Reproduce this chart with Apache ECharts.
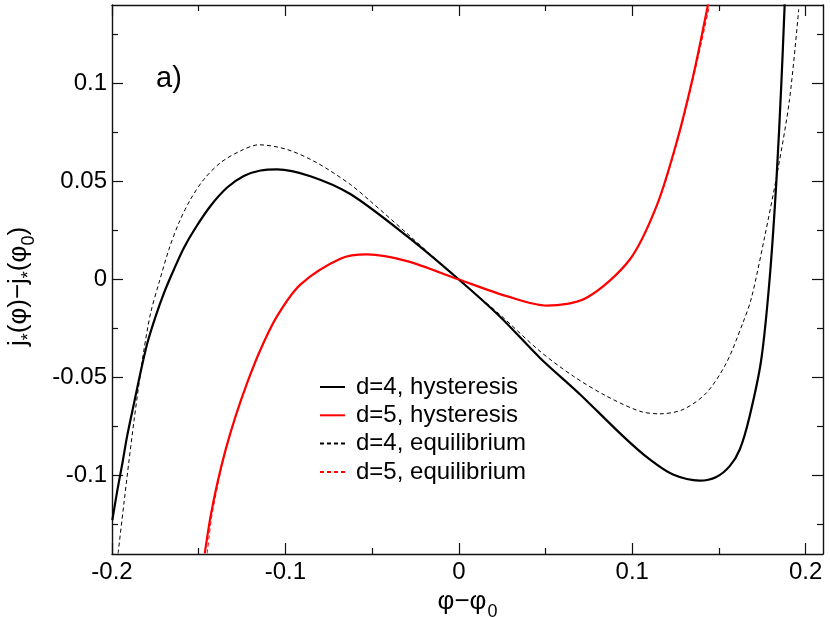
<!DOCTYPE html>
<html>
<head>
<meta charset="utf-8">
<script src="https://cdn.jsdelivr.net/npm/echarts@6/dist/echarts.min.js"></script>
<style>
html,body{margin:0;padding:0;background:#fff;}
#chart{width:830px;height:617px;}
</style>
</head>
<body>
<div id="chart"></div>
<script>
// d=4, hysteresis
const d4hX = [-0.1998, -0.1969, -0.1940, -0.1912, -0.1873, -0.1835, -0.1796, -0.1748, -0.1700, -0.1643, -0.1585, -0.1518, -0.1432, -0.1336, -0.1240, -0.1144, -0.1048, -0.0856, -0.0626, -0.0299, 0, 0.0238, 0.0468, 0.0698, 0.0948, 0.1101, 0.1235, 0.1389, 0.1485, 0.1562, 0.1620, 0.1677, 0.1744, 0.1792, 0.1831, 0.1860, 0.1879];
const d4hY = [-0.1227, -0.1074, -0.0937, -0.0795, -0.0631, -0.0472, -0.0324, -0.0187, -0.0068, 0.0051, 0.0162, 0.0264, 0.0375, 0.0469, 0.0528, 0.0556, 0.0562, 0.0527, 0.0436, 0.0221, 0, -0.0190, -0.0400, -0.0585, -0.0800, -0.0918, -0.0995, -0.1026, -0.1007, -0.0952, -0.0867, -0.0697, -0.0408, 0, 0.0498, 0.1003, 0.1403];
// d=5, hysteresis
const d5hX = [-0.1465, -0.1432, -0.1393, -0.1345, -0.1288, -0.1221, -0.1144, -0.1048, -0.0914, -0.0683, -0.0530, -0.0299, 0, 0.0276, 0.0507, 0.0737, 0.0986, 0.1140, 0.1255, 0.1351, 0.1437];
const d5hY = [-0.1397, -0.1210, -0.1040, -0.0869, -0.0699, -0.0528, -0.0358, -0.0187, -0.0026, 0.0106, 0.0128, 0.0094, 0, -0.0085, -0.0133, -0.0093, 0.0102, 0.0374, 0.0697, 0.1037, 0.1403];
// d=4, equilibrium
const d4eX = [-0.1965, -0.1931, -0.1902, -0.1873, -0.1844, -0.1816, -0.1777, -0.1729, -0.1672, -0.1614, -0.1547, -0.1470, -0.1374, -0.1259, -0.1154, -0.0990, -0.0818, -0.0626, -0.0511, -0.0299, 0, 0.0238, 0.0468, 0.0660, 0.0852, 0.1044, 0.1159, 0.1293, 0.1428, 0.1543, 0.1638, 0.1687, 0.1763, 0.1840, 0.1907, 0.1960];
const d4eY = [-0.1397, -0.1140, -0.0925, -0.0720, -0.0530, -0.0360, -0.0170, -0.0017, 0.0153, 0.0290, 0.0409, 0.0511, 0.0596, 0.0656, 0.0687, 0.0663, 0.0595, 0.0485, 0.0400, 0.0235, 0, -0.0180, -0.0366, -0.0493, -0.0595, -0.0672, -0.0685, -0.0663, -0.0578, -0.0425, -0.0221, -0.0095, 0.0215, 0.0561, 0.0918, 0.1378];
// d=5, equilibrium
const d5eX = [-0.1451, -0.1425, -0.1388, -0.1345, -0.1288, -0.1221, -0.1144, -0.1048, -0.0914, -0.0683, -0.0530, -0.0299, 0, 0.0276, 0.0507, 0.0737, 0.0986, 0.1142, 0.1258, 0.1355, 0.1447];
const d5eY = [-0.1397, -0.1210, -0.1040, -0.0869, -0.0699, -0.0528, -0.0358, -0.0187, -0.0026, 0.0106, 0.0128, 0.0094, 0, -0.0085, -0.0133, -0.0093, 0.0102, 0.0374, 0.0697, 0.1037, 0.1403];

const seriesNames = ['d=4, hysteresis', 'd=5, hysteresis', 'd=4, equilibrium', 'd=5, equilibrium'];
const xMajorTicks = [-0.2, -0.1, 0, 0.1, 0.2];
const xMinorTicks = [-0.15, -0.05, 0.05, 0.15];
const yMajorTicks = [-0.1, -0.05, 0, 0.05, 0.1];
const yMinorTicks = [-0.125, -0.075, -0.025, 0.025, 0.075, 0.125];

const zip = (xs, ys) => xs.map((x, i) => [x, ys[i]]);

const FONT = '"Liberation Sans", Arial, Helvetica, sans-serif';
const axisLineStyle = { color: '#111', width: 1.4 };
const XMIN = -0.2, XMAX = 0.21, YMIN = -0.14, YMAX = 0.14;

function xAx(pos, major, withLabel) {
  const a = {
    type: 'value', min: XMIN, max: XMAX, position: pos, gridIndex: 0,
    axisLine: { show: major, onZero: false, lineStyle: axisLineStyle },
    axisTick: { show: true, inside: true, length: major ? 11 : 6, customValues: major ? xMajorTicks : xMinorTicks, lineStyle: { color: '#111', width: 1.2 } },
    axisLabel: withLabel ? { show: true, customValues: xMajorTicks, fontSize: 24, fontFamily: FONT, color: '#000', margin: 6 } : { show: false },
    splitLine: { show: false }
  };
  if (withLabel) {
    a.name = '{m|φ−φ}{s|0}';
    a.nameLocation = 'middle';
    a.nameGap = 23;
    a.nameTextStyle = {
      rich: {
        m: { fontSize: 26, fontFamily: FONT, color: '#000' },
        s: { fontSize: 18, fontFamily: FONT, color: '#000', padding: [20, 0, 0, 1] }
      }
    };
  }
  return a;
}
function yAx(pos, major, withLabel) {
  const a = {
    type: 'value', min: YMIN, max: YMAX, position: pos, gridIndex: 0,
    axisLine: { show: major, onZero: false, lineStyle: axisLineStyle },
    axisTick: { show: true, inside: true, length: major ? 11 : 6, customValues: major ? yMajorTicks : yMinorTicks, lineStyle: { color: '#111', width: 1.2 } },
    axisLabel: withLabel ? { show: true, customValues: yMajorTicks, fontSize: 24, fontFamily: FONT, color: '#000', margin: 5 } : { show: false },
    splitLine: { show: false }
  };
  if (withLabel) {
    a.name = '{m|j}{s|*}{m|(φ)−j}{s|*}{m|(φ}{s|0}{m|)}';
    a.nameLocation = 'middle';
    a.nameGap = 74;
    a.nameTextStyle = {
      padding: [0, 14, 0, 0],
      rich: {
        m: { fontSize: 26, fontFamily: FONT, color: '#000' },
        s: { fontSize: 18, fontFamily: FONT, color: '#000', padding: [20, 0, 0, 0] }
      }
    };
  }
  return a;
}

const chart = echarts.init(document.getElementById('chart'), null, { renderer: 'canvas' });
const lineBase = { type: 'line', showSymbol: false, symbol: 'none', smooth: 0.3, smoothMonotone: 'none' };
const option = {
  backgroundColor: '#fff',
  animation: false,
  grid: { left: 112, top: 5, right: 7, bottom: 63, containLabel: false, outerBoundsMode: 'none' },
  xAxis: [xAx('bottom', true, true), xAx('bottom', false, false), xAx('top', true, false), xAx('top', false, false)],
  yAxis: [yAx('left', true, true), yAx('left', false, false), yAx('right', true, false), yAx('right', false, false)],
  legend: {
    orient: 'vertical', left: 314, top: 370,
    itemWidth: 25, itemHeight: 14, itemGap: 4.3,
    itemStyle: { opacity: 0 },
    textStyle: { fontSize: 24, fontFamily: FONT, color: '#000', lineHeight: 24, padding: [0, 0, 0, 6] },
    data: seriesNames
  },
  graphic: [{
    type: 'text', left: 156, top: 64,
    style: { text: 'a)', fontSize: 29, fontFamily: FONT, fill: '#000' }
  }],
  series: [
    Object.assign({}, lineBase, { name: seriesNames[0], data: zip(d4hX, d4hY), lineStyle: { color: '#000', width: 2.2 }, itemStyle: { color: '#000' }, z: 3 }),
    Object.assign({}, lineBase, { name: seriesNames[1], data: zip(d5hX, d5hY), lineStyle: { color: '#ff0000', width: 2.2 }, itemStyle: { color: '#ff0000' }, z: 3 }),
    Object.assign({}, lineBase, { name: seriesNames[2], data: zip(d4eX, d4eY), lineStyle: { color: '#000', width: 1, type: [4, 3] }, itemStyle: { color: '#000' }, z: 4 }),
    Object.assign({}, lineBase, { name: seriesNames[3], data: zip(d5eX, d5eY), lineStyle: { color: '#ff0000', width: 1, type: [4, 3] }, itemStyle: { color: '#ff0000' }, z: 4 })
  ]
};
chart.setOption(option);
</script>
</body>
</html>
